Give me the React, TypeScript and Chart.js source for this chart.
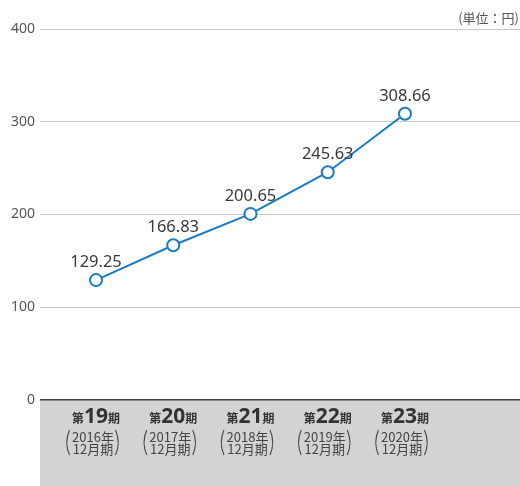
import React, { useEffect, useRef } from "react";
import { Chart, registerables } from "chart.js";

Chart.register(...registerables);

const periods = ["19", "20", "21", "22", "23"];
const years = ["2016", "2017", "2018", "2019", "2020"];
const values = [129.25, 166.83, 200.65, 245.63, 308.66];
const yTicks = [0, 100, 200, 300, 400];
const unitLabel = "(単位：円)";

const FONT = '"Noto Sans", "Noto Sans CJK JP", sans-serif';
const JP = '"Noto Sans CJK JP", "Noto Sans", sans-serif';
const BLUE = "#1a7cc4";

const bgPlugin = {
  id: "bgBand",
  beforeDraw(chart: any) {
    const { ctx, chartArea, height } = chart;
    ctx.save();
    ctx.fillStyle = "#d3d3d5";
    ctx.fillRect(chartArea.left, chartArea.bottom, chartArea.right - chartArea.left, height - chartArea.bottom);
    ctx.restore();
  },
};

const labelsPlugin = {
  id: "customLabels",
  afterDraw(chart: any) {
    const { ctx, chartArea } = chart;
    const xs = chart.scales.x;
    ctx.save();
    ctx.fillStyle = "#555";
    ctx.font = `13px ${JP}`;
    ctx.textAlign = "right";
    ctx.textBaseline = "alphabetic";
    ctx.fillText(unitLabel, 519, 23);

    const meta = chart.getDatasetMeta(0);
    ctx.fillStyle = "#3a3a3a";
    ctx.font = `16.5px ${FONT}`;
    ctx.textAlign = "center";
    meta.data.forEach((pt: any, i: number) => {
      ctx.fillText(values[i].toFixed(2), pt.x, pt.y - 13);
    });

    periods.forEach((p, i) => {
      const cx = xs.getPixelForValue(i);
      const base = chartArea.bottom + 23;
      ctx.textAlign = "left";
      const fSmall = `bold 12px ${JP}`;
      const fBig = `bold 21px ${FONT}`;
      ctx.font = fSmall;
      const w1 = ctx.measureText("第").width;
      const w3 = ctx.measureText("期").width;
      ctx.font = fBig;
      const w2 = ctx.measureText(p).width;
      let x = cx - (w1 + w2 + w3) / 2;
      ctx.fillStyle = "#333";
      ctx.font = fSmall;
      ctx.fillText("第", x, base);
      x += w1;
      ctx.font = fBig;
      ctx.fillText(p, x, base);
      x += w2;
      ctx.font = fSmall;
      ctx.fillText("期", x, base);

      const sx = cx - 4;
      ctx.fillStyle = "#444";
      ctx.font = `13px ${JP}`;
      ctx.textAlign = "center";
      ctx.fillText(years[i] + "年", sx + 1, chartArea.bottom + 42);
      ctx.fillText("12月期", sx + 1, chartArea.bottom + 54);

      ctx.strokeStyle = "#444";
      ctx.lineWidth = 1.1;
      const top = chartArea.bottom + 30;
      const bot = chartArea.bottom + 55;
      const lx = sx - 25;
      const rx = sx + 26;
      ctx.beginPath();
      ctx.moveTo(lx + 2.5, top);
      ctx.quadraticCurveTo(lx - 3, (top + bot) / 2, lx + 2.5, bot);
      ctx.stroke();
      ctx.beginPath();
      ctx.moveTo(rx - 2.5, top);
      ctx.quadraticCurveTo(rx + 3, (top + bot) / 2, rx - 2.5, bot);
      ctx.stroke();
    });
    ctx.restore();
  },
};

export default function App() {
  const ref = useRef<HTMLCanvasElement>(null);
  useEffect(() => {
    const chart = new Chart(ref.current!, {
      type: "line",
      data: {
        datasets: [
          {
            data: values.map((v, i) => ({ x: i, y: v })),
            borderColor: BLUE,
            borderWidth: 2,
            pointRadius: 6,
            pointBorderWidth: 2,
            pointBackgroundColor: "#fff",
            pointBorderColor: BLUE,
            tension: 0,
          },
        ],
      },
      options: {
        animation: false,
        responsive: false,
        maintainAspectRatio: false,
        devicePixelRatio: 1,
        layout: { autoPadding: false, padding: { top: 29, bottom: 86, right: 0, left: 0 } },
        plugins: { legend: { display: false }, tooltip: { enabled: false } },
        scales: {
          x: {
            type: "linear",
            display: false,
            min: -0.725,
            max: 5.489,
          },
          y: {
            min: 0,
            max: 400,
            afterFit(scale: any) {
              scale.width = 40;
            },
            afterBuildTicks(scale: any) {
              scale.ticks = yTicks.map((v) => ({ value: v }));
            },
            border: { display: false },
            grid: {
              drawTicks: false,
              color: (c: any) => (c.tick && c.tick.value === 0 ? "#444" : "#c8c8c8"),
              lineWidth: (c: any) => (c.tick && c.tick.value === 0 ? 1.5 : 1),
            },
            ticks: {
              padding: 5,
              color: "#555",
              font: { family: FONT, size: 14 },
            },
          },
        },
      },
      plugins: [bgPlugin, labelsPlugin],
    } as any);
    return () => chart.destroy();
  }, []);
  return (
    <div style={{ position: "absolute", left: 0, top: 0, width: 520, height: 486 }}>
      <canvas ref={ref} width={520} height={486} style={{ display: "block" }} />
    </div>
  );
}
